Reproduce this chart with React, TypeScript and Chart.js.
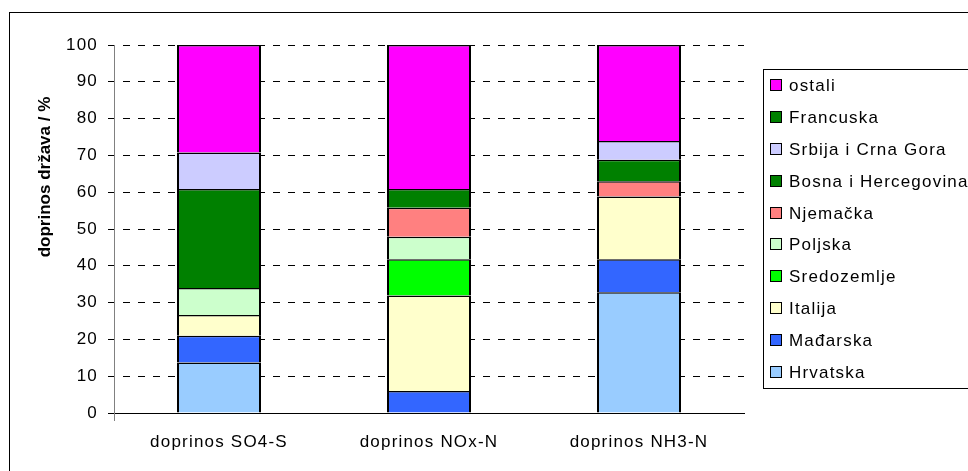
import { useEffect, useRef } from "react";
import { Chart, registerables } from "chart.js";

Chart.register(...registerables);

// Contribution of countries (%) to deposition of sulphur, oxidised and reduced nitrogen
const categories = ["doprinos SO4-S", "doprinos NOx-N", "doprinos NH3-N"];
const hrvatska = [13.7, null, 32.8];
const madjarska = [7.3, 6.0, 9.0];
const italija = [5.6, 25.9, 17.0];
const sredozemlje = [null, 9.9, null];
const poljska = [7.4, 6.1, null];
const njemacka = [null, 7.9, 4.2];
const bosna = [26.9, null, 5.8];
const srbija = [9.9, null, 5.1];
const francuska = [null, 5.1, null];
const ostali = [29.2, 39.1, 26.1];

const yMin = 0;
const yMax = 100;
const yStep = 10;
const yTitle = "doprinos država / %";

const FONT = "'Liberation Sans', Arial, sans-serif";
const SPACING = "1.2px";

const series = [
  { label: "Hrvatska", data: hrvatska, color: "#99CCFF" },
  { label: "Mađarska", data: madjarska, color: "#3366FF" },
  { label: "Italija", data: italija, color: "#FFFFCC" },
  { label: "Sredozemlje", data: sredozemlje, color: "#00FF00" },
  { label: "Poljska", data: poljska, color: "#CCFFCC" },
  { label: "Njemačka", data: njemacka, color: "#FF8080" },
  { label: "Bosna i Hercegovina", data: bosna, color: "#008000" },
  { label: "Srbija i Crna Gora", data: srbija, color: "#CCCCFF" },
  { label: "Francuska", data: francuska, color: "#008000" },
  { label: "ostali", data: ostali, color: "#FF00FF" },
];

const setSpacing = (chart: any) => {
  chart.ctx.letterSpacing = SPACING;
};

// Wider letter spacing for all chart text
const spacingPlugin = {
  id: "letterSpacing",
  afterInit: setSpacing,
  beforeUpdate: setSpacing,
  beforeLayout: setSpacing,
  beforeDraw: setSpacing,
};

// Outer frame, y-axis stub below the category axis and the rotated axis title
const decorPlugin = {
  id: "decor",
  afterDraw(chart: any) {
    const { ctx, chartArea, scales } = chart;
    ctx.save();
    ctx.letterSpacing = "0px";
    ctx.strokeStyle = "#000";
    ctx.lineWidth = 1;
    ctx.strokeRect(9.5, 12.5, 2000, 2000);

    const ax = Math.round(scales.y.right) + 0.5;
    ctx.strokeStyle = "#808080";
    ctx.beginPath();
    ctx.moveTo(ax, chartArea.bottom);
    ctx.lineTo(ax, chartArea.bottom + 8);
    ctx.stroke();

    ctx.translate(45, 177);
    ctx.rotate(-Math.PI / 2);
    ctx.fillStyle = "#000";
    ctx.font = `bold 17px ${FONT}`;
    ctx.textAlign = "center";
    ctx.textBaseline = "middle";
    ctx.fillText(yTitle, 0, 0);
    ctx.restore();
  },
};

// Boxed legend on the right, listed top-down in reverse stacking order
const legendPlugin = {
  id: "sideLegend",
  afterDraw(chart: any) {
    const { ctx, chartArea } = chart;
    const items = chart.data.datasets.slice().reverse();
    const left = Math.round(chartArea.right) + 19;
    const top = 69;
    const bottom = 388;
    const step = (bottom - top) / items.length;
    ctx.save();
    ctx.letterSpacing = SPACING;
    ctx.strokeStyle = "#000";
    ctx.lineWidth = 1;
    ctx.strokeRect(left + 0.5, top + 0.5, 400, bottom - top);
    ctx.font = `17px ${FONT}`;
    ctx.textAlign = "left";
    ctx.textBaseline = "middle";
    items.forEach((ds: any, i: number) => {
      const cy = Math.round(top + step * (i + 0.5));
      ctx.fillStyle = ds.backgroundColor;
      ctx.fillRect(left + 8, cy - 5, 10, 10);
      ctx.strokeStyle = "#000";
      ctx.strokeRect(left + 7.5, cy - 5.5, 11, 11);
      ctx.fillStyle = "#000";
      ctx.fillText(ds.label, left + 26, cy + 1);
    });
    ctx.restore();
  },
};

export default function App() {
  const canvasRef = useRef<HTMLCanvasElement | null>(null);

  useEffect(() => {
    const canvas = canvasRef.current;
    if (!canvas) return;
    const chart = new Chart(canvas, {
      type: "bar",
      data: {
        labels: categories,
        datasets: series.map((s) => ({
          label: s.label,
          data: s.data,
          backgroundColor: s.color,
          borderColor: "#000",
          borderWidth: { top: 1.5, left: 2, right: 2, bottom: 0 },
          barPercentage: 0.4,
          categoryPercentage: 1,
        })),
      },
      options: {
        responsive: false,
        animation: false,
        devicePixelRatio: 1,
        events: [],
        layout: { padding: { top: 45, right: 224, bottom: 0, left: 0 } },
        plugins: {
          legend: { display: false },
          tooltip: { enabled: false },
          title: { display: false },
        },
        scales: {
          x: {
            stacked: true,
            grid: { display: false, drawTicks: false },
            border: { display: true, color: "#000", width: 1, z: 1 },
            ticks: { color: "#000", font: { family: FONT, size: 17 }, padding: 19 },
            afterFit(scale: any) {
              scale.height = 58;
            },
          },
          y: {
            stacked: true,
            min: yMin,
            max: yMax,
            ticks: {
              stepSize: yStep,
              color: "#000",
              font: { family: FONT, size: 17 },
              padding: 10,
            },
            grid: {
              color: "#000",
              lineWidth: 1,
              drawTicks: true,
              tickLength: 6,
              tickColor: "#000",
            },
            border: { display: true, color: "#808080", width: 1, dash: [7, 8], dashOffset: 7 },
            afterFit(scale: any) {
              scale.width = 114;
            },
          },
        },
      },
      plugins: [spacingPlugin, decorPlugin, legendPlugin],
    });
    return () => chart.destroy();
  }, []);

  return (
    <div style={{ position: "fixed", left: 0, top: 0, width: 968, height: 471, background: "#fff" }}>
      <canvas ref={canvasRef} width={968} height={471} style={{ display: "block" }} />
    </div>
  );
}
